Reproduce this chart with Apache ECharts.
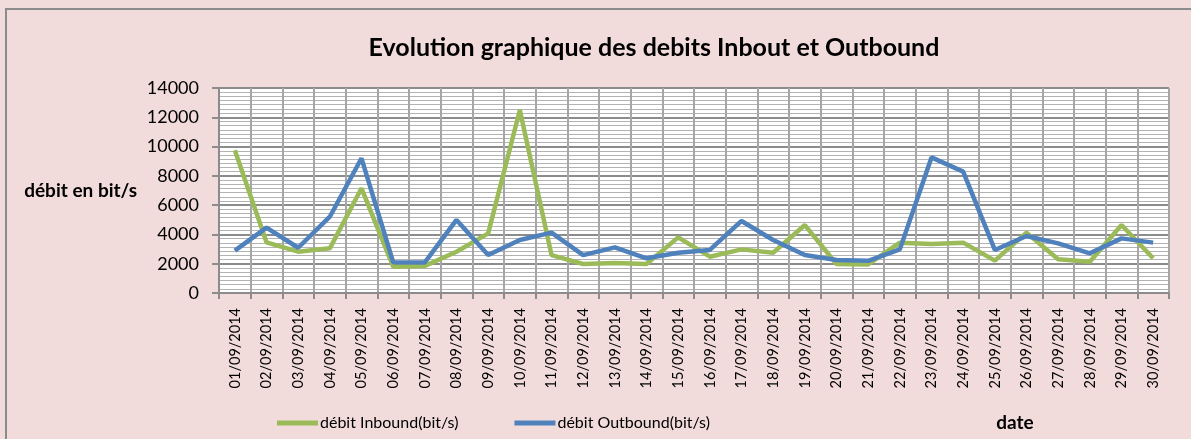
<!DOCTYPE html>
<html>
<head>
<meta charset="utf-8">
<script src="https://cdn.jsdelivr.net/npm/echarts@6/dist/echarts.min.js"></script>
<style>
html,body{margin:0;padding:0;background:#F2DCDB;}
#c{width:1191px;height:439px;}
</style>
</head>
<body>
<div id="c"></div>
<script>
const categories = ["01/09/2014","02/09/2014","03/09/2014","04/09/2014","05/09/2014","06/09/2014","07/09/2014","08/09/2014","09/09/2014","10/09/2014","11/09/2014","12/09/2014","13/09/2014","14/09/2014","15/09/2014","16/09/2014","17/09/2014","18/09/2014","19/09/2014","20/09/2014","21/09/2014","22/09/2014","23/09/2014","24/09/2014","25/09/2014","26/09/2014","27/09/2014","28/09/2014","29/09/2014","30/09/2014"];
const inbound = [9750,3460,2820,3050,7150,1800,1850,2820,4070,12500,2590,1980,2050,1980,3800,2480,2980,2750,4640,1980,1950,3440,3350,3440,2210,4120,2300,2140,4640,2370];
const outbound = [2890,4460,3090,5210,9200,2100,2090,4990,2590,3620,4120,2590,3120,2370,2750,2940,4920,3620,2590,2250,2200,2980,9260,8290,2940,3890,3390,2710,3730,3440];
const yTicks = {min:0, max:14000, interval:2000};

const FONT = 'Lato';
const chart = echarts.init(document.getElementById('c'), null, {renderer:'canvas'});
chart.setOption({
  backgroundColor:'#F2DCDB',
  animation:false,
  title:{
    text:'Evolution graphique des debits Inbout et Outbound',
    left:649, top:30, textAlign:'center',
    textStyle:{fontFamily:FONT, fontWeight:'bold', fontSize:25, color:'#000'}
  },
  legend:{
    left:277, top:415, padding:0,
    itemWidth:41, itemHeight:5, itemGap:56,
    icon:'rect',
    textStyle:{fontFamily:FONT, fontSize:16, color:'#000', padding:[0,0,0,-3]},
    data:['débit Inbound(bit/s)','débit Outbound(bit/s)']
  },
  grid:{left:219, right:22, top:88, bottom:146, backgroundColor:'#fff', show:true, borderWidth:0},
  xAxis:{
    type:'category', data:categories, boundaryGap:true,
    axisLine:{lineStyle:{color:'#8c8c8c', width:2}},
    axisTick:{show:true, interval:0, length:6, lineStyle:{color:'#8c8c8c', width:2}},
    axisLabel:{interval:0, rotate:90, margin:15, fontFamily:FONT, fontSize:14.5, color:'#000'},
    splitLine:{show:true, interval:0, lineStyle:{color:'#a6a6a6', width:2}}
  },
  yAxis:{
    type:'value', min:yTicks.min, max:yTicks.max, interval:yTicks.interval,
    name:'débit en bit/s', nameLocation:'middle', nameRotate:0, nameGap:82,
    nameTextStyle:{fontFamily:FONT, fontWeight:'bold', fontSize:19, color:'#000', padding:[0,0,10,0]},
    axisLine:{show:true, lineStyle:{color:'#8c8c8c', width:2}},
    axisTick:{show:true, length:7, lineStyle:{color:'#8c8c8c', width:2}},
    axisLabel:{margin:20, fontFamily:FONT, fontSize:18, color:'#000', formatter:function(v){return String(v);}},
    splitLine:{show:true, lineStyle:{color:'#8c8c8c', width:2}},
    minorTick:{show:false, splitNumber:7},
    minorSplitLine:{show:true, lineStyle:{color:'#b3b3b3', width:1}}
  },
  graphic:[
    {type:'rect', shape:{x:6, y:9, width:1300, height:600}, style:{fill:null, stroke:'#8c8c8c', lineWidth:2}, z:100},
    {type:'text', x:1015, y:423, style:{text:'date', fontFamily:FONT, fontWeight:'bold', fontSize:19, fill:'#000', textAlign:'center', textVerticalAlign:'middle'}, z:100}
  ],
  series:[
    {name:'débit Inbound(bit/s)', type:'line', data:inbound, symbol:'none', color:'#9BBB59', lineStyle:{width:4.5, color:'#9BBB59'}},
    {name:'débit Outbound(bit/s)', type:'line', data:outbound, symbol:'none', color:'#4F81BD', lineStyle:{width:4.5, color:'#4F81BD'}}
  ]
});
</script>
</body>
</html>
